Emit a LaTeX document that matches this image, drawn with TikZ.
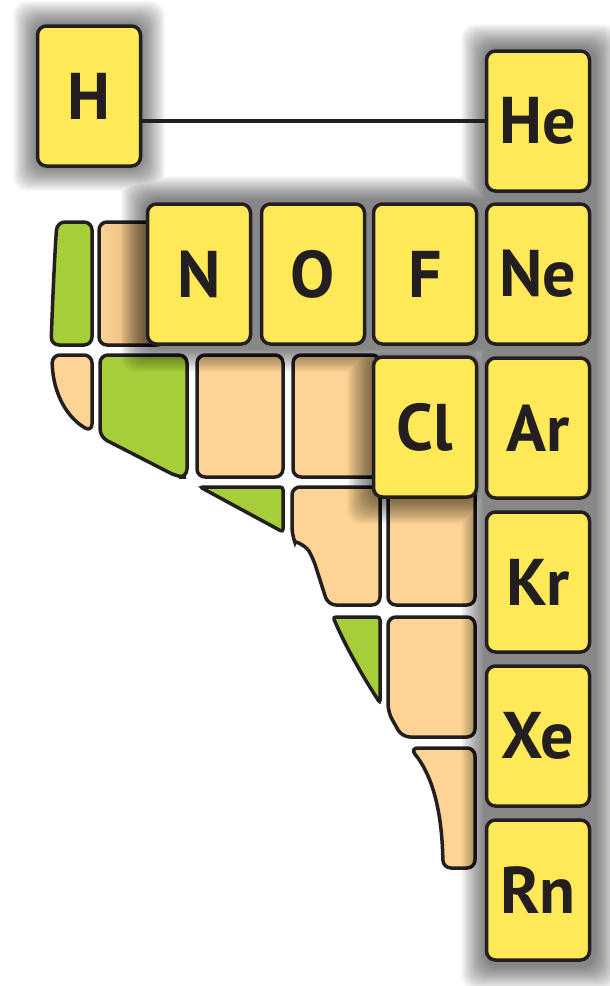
\documentclass[tikz,border=0pt]{standalone}
\usepackage{fontspec}
\setmainfont{PT Sans}
\definecolor{ink}{RGB}{35,31,32}
\definecolor{yel}{RGB}{255,233,87}
\definecolor{tancol}{RGB}{253,212,150}
\definecolor{tandk}{RGB}{205,162,108}
\definecolor{grn}{RGB}{166,206,57}
\begin{document}
\begin{tikzpicture}[x=1pt,y=-1pt,
  elem/.style={draw=ink,line width=3.5pt,fill=yel,rounded corners=9pt,minimum width=103pt,minimum height=140pt,inner sep=0pt,text=ink,font=\fontsize{66}{66}\selectfont\bfseries},
  cell/.style={draw=ink,line width=3.5pt,rounded corners=8pt,fill=tancol},
  gcell/.style={cell,fill=grn}]
\useasboundingbox[fill=white] (0,0) rectangle (610,986);
% cut-off block, left part
\draw[gcell] (51,345) .. controls (53,290) and (55,250) .. (57,222) -- (92,222) -- (92,345) -- cycle;
\draw[cell,left color=tancol,right color=tandk] (99,222) rectangle (165,345);
\draw[cell] (92,432) .. controls (68,418) and (53,395) .. (52,355) -- (92,355) -- cycle;
\draw[gcell] (100,437) -- (100,355) -- (187,355) -- (187,477) -- (178,477) -- cycle;
\draw[cell] (197,355) rectangle (283,477);
\draw[cell] (293,355) rectangle (380,477);
\draw[gcell,rounded corners=3pt] (283,532) -- (200,487) -- (283,487) -- cycle;
\draw[cell] (328,605) -- (313,558) .. controls (306,546) and (294,540) .. (292,535) -- (292,487) -- (380,487) -- (380,605) -- cycle;
\draw[cell] (388,487) rectangle (475,605);
\draw[gcell,rounded corners=3pt] (380,703) .. controls (360,672) and (345,645) .. (333,617) -- (380,617) -- cycle;
\draw[cell] (402,737) -- (388,712) -- (388,617) -- (475,617) -- (475,737) -- cycle;
\draw[cell] (443,868) .. controls (442,810) and (432,775) .. (410,748) -- (475,748) -- (475,868) -- cycle;
% soft shadow
\foreach \r in {1,...,24}{
  \fill[black,opacity=0.022,rounded corners=14pt]
    (37-\r,25-\r) rectangle (141+\r,167+\r)
    (145-\r,200-\r) rectangle (590+\r,348+\r)
    (485-\r,48-\r) rectangle (595+\r,966+\r)
    (371-\r,355-\r) rectangle (478+\r,500+\r);
}
% highlighted elements
\node[elem] (H) at (89,96) {H};
\node[elem] (He) at (538,121) {He};
\node[elem] (N) at (199,274) {N};
\node[elem] (O) at (313,274) {O};
\node[elem] (F) at (425,274) {F};
\node[elem] (Ne) at (538,274) {Ne};
\node[elem] (Cl) at (425,427) {Cl};
\node[elem] (Ar) at (538,428) {Ar};
\node[elem] (Kr) at (538,582) {Kr};
\node[elem] (Xe) at (538,736) {Xe};
\node[elem] (Rn) at (538,890) {Rn};
\draw[ink,line width=3.5pt] (H.east |- He.west) -- (He.west);
\end{tikzpicture}
\end{document}
